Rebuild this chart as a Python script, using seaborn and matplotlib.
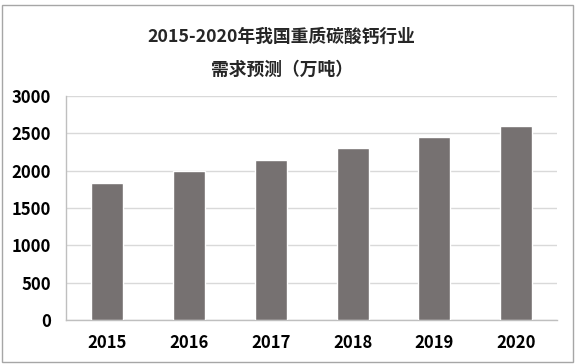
import numpy as np
import pandas as pd
import matplotlib
matplotlib.use('Agg')
import matplotlib.pyplot as plt
import seaborn as sns
from matplotlib.patches import Rectangle

years = ['2015', '2016', '2017', '2018', '2019', '2020']
demand = [1840, 2000, 2150, 2300, 2450, 2600]
y_ticks = [0, 500, 1000, 1500, 2000, 2500, 3000]
title_line1 = '2015-2020年我国重质碳酸钙行业'
title_line2 = '需求预测（万吨）'

sns.set_theme(style='white')
plt.rcParams['font.family'] = ['Noto Sans CJK SC', 'DejaVu Sans']

df = pd.DataFrame({'year': years, 'demand': demand})

fig = plt.figure(figsize=(5.75, 3.64), dpi=100)
ax = fig.add_axes([0.115, 0.121, 0.854, 0.615])

sns.barplot(data=df, x='year', y='demand', color='#767171', saturation=1,
            width=0.39, ax=ax, zorder=3)

ax.set_xlim(-0.5, len(years) - 0.5)
ax.set_ylim(0, 3000)
ax.set_yticks(y_ticks)
ax.set_yticklabels([str(t) for t in y_ticks], fontsize=12, fontweight='bold')
ax.set_xticklabels(years, fontsize=12, fontweight='bold')
ax.set_xlabel('')
ax.set_ylabel('')

ax.yaxis.grid(True, color='#d9d9d9', linewidth=1, zorder=0)
ax.set_axisbelow(True)

# category boundary ticks on x axis
ax.set_xticks(np.arange(-0.5, len(years), 1.0), minor=True)
ax.tick_params(axis='x', which='major', length=0, pad=10)
ax.tick_params(axis='x', which='minor', length=5, width=1, direction='out')
ax.tick_params(axis='y', which='major', length=5, width=1, direction='out', pad=6)
ax.tick_params(axis='both', which='both', color='#bfbfbf', labelcolor='#000000')

for s in ['top', 'right']:
    ax.spines[s].set_visible(False)
for s in ['left', 'bottom']:
    ax.spines[s].set_color('#bfbfbf')
    ax.spines[s].set_linewidth(1)

fig.text(0.49, 0.898, title_line1, ha='center', va='center',
         fontsize=12.8, fontweight='bold')
fig.text(0.49, 0.808, title_line2, ha='center', va='center',
         fontsize=12.8, fontweight='bold')

# outer frame
fig.patches.append(Rectangle((0.004, 0.006), 0.992, 0.98, transform=fig.transFigure,
                             fill=False, edgecolor='#a6a6a6', linewidth=1))

fig.savefig('out.png', dpi=100)
